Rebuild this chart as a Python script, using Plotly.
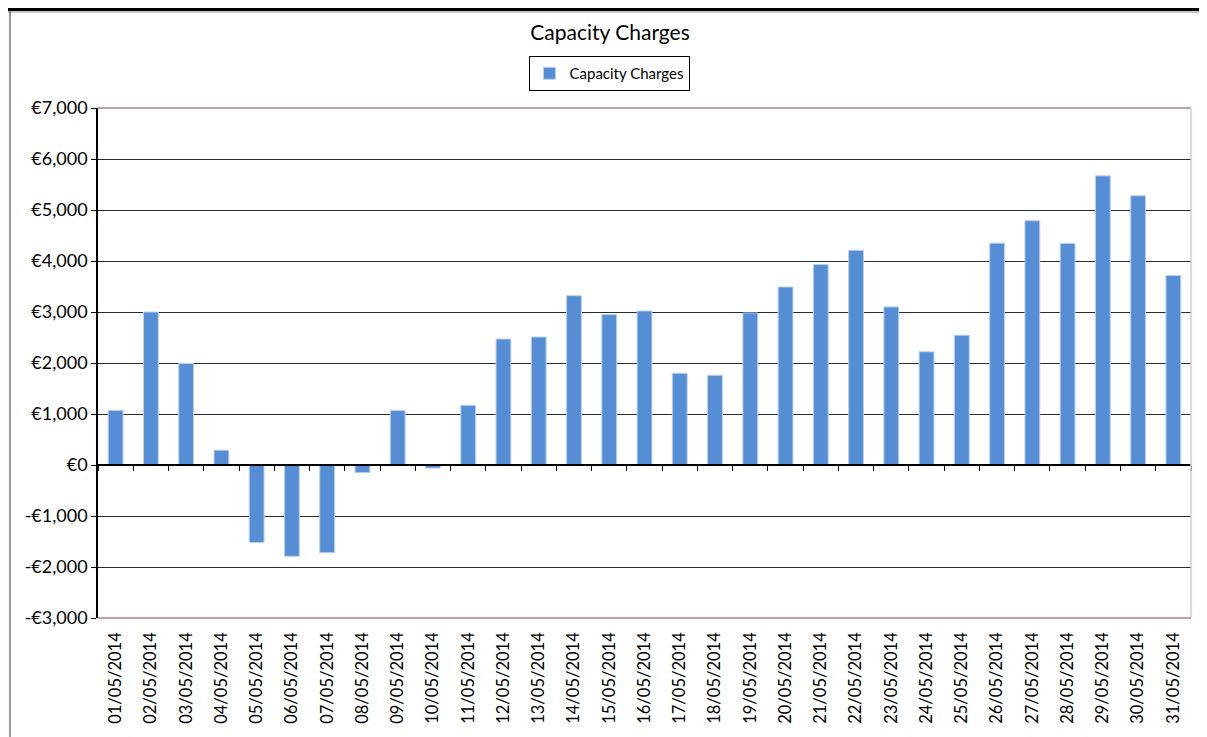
import plotly.graph_objects as go

# daily capacity charges, May 2014 (EUR)
dates = [f"{d:02d}/05/2014" for d in range(1, 32)]
charges = [1070, 3000, 1990, 290, -1520, -1790, -1720, -150, 1070, -60,
           1170, 2470, 2510, 3320, 2950, 3020, 1800, 1760, 2980, 3490,
           3930, 4210, 3100, 2220, 2545, 4350, 4790, 4345, 5670, 5280, 3715]
y_ticks = [-3000, -2000, -1000, 0, 1000, 2000, 3000, 4000, 5000, 6000, 7000]

FONT = "Lato"
OFF = 8  # page body margin
W, H = 1207 - OFF, 737 - OFF
L, R, T, B = 98 - OFF, 16, 108 - OFF, 119
PW, PH = W - L - R, H - T - B


def euro(v):
    return f"-€{abs(v):,}" if v < 0 else f"€{v:,}"


# screen pixel (as in the picture) -> paper fraction
def px(x):
    return (x - OFF - L) / PW


def py(y):
    return (H - B - (y - OFF)) / PH


fig = go.Figure()
fig.add_trace(go.Bar(
    x=dates, y=charges, name="Capacity Charges",
    marker=dict(color="#558ED5", line=dict(color="#b9d0ef", width=1)),
    width=0.42,
))
# invisible trace so the zero-line axis has its categories
fig.add_trace(go.Scatter(
    x=dates, y=[0] * len(dates), xaxis="x2", mode="markers",
    marker=dict(opacity=0, size=1), showlegend=False, hoverinfo="skip",
))

pink = "#c0a4a4"
shapes = [
    # plot area border (top, right, bottom)
    dict(type="line", xref="paper", yref="paper", x0=0, x1=1, y0=1, y1=1, line=dict(color=pink, width=2), layer="above"),
    dict(type="line", xref="paper", yref="paper", x0=1, x1=1, y0=0, y1=1, line=dict(color="#e6c4c8", width=1.5), layer="above"),
    dict(type="line", xref="paper", yref="paper", x0=0, x1=1, y0=0, y1=0, line=dict(color=pink, width=2), layer="above"),
    # outer chart frame (top edge as close to the page top as the figure allows)
    dict(type="line", xref="paper", yref="paper", x0=px(0), x1=px(1207), y0=py(9.5), y1=py(9.5), line=dict(color="black", width=3)),
    dict(type="line", xref="paper", yref="paper", x0=px(0), x1=px(1207), y0=py(12), y1=py(12), line=dict(color="#909090", width=1)),
    dict(type="line", xref="paper", yref="paper", x0=px(10), x1=px(10), y0=py(11), y1=py(737), line=dict(color="#707070", width=1.5)),
]

n = len(dates)
fig.update_layout(
    width=W, height=H,
    margin=dict(l=L, r=R, t=T, b=B),
    paper_bgcolor="white", plot_bgcolor="white",
    font=dict(family=FONT, size=17, color="black"),
    title=dict(text="Capacity Charges", x=(610 - OFF) / W, xref="container", xanchor="center",
               y=1 - (33 - OFF) / H, yanchor="middle", font=dict(size=21, family=FONT, color="black")),
    showlegend=True,
    legend=dict(orientation="h", x=px(609), xanchor="center", y=py(73.5), yanchor="middle",
                bordercolor="black", borderwidth=1, font=dict(size=15, family=FONT),
                itemwidth=30),
    xaxis=dict(type="category", range=[-0.5, n - 0.5], showline=False, showgrid=False, ticks="",
               tickangle=-90, tickfont=dict(size=16.5), ticklabelstandoff=10),
    xaxis2=dict(type="category", overlaying="x", anchor="free", position=0.3, side="bottom",
                range=[-0.5, n - 0.5],
                showline=True, linecolor="black", linewidth=1.5, showgrid=False,
                ticks="outside", ticklen=5, tickcolor="black", tickson="boundaries",
                showticklabels=False),
    yaxis=dict(range=[-3000, 7000], tickvals=y_ticks, ticktext=[euro(v) for v in y_ticks],
               showgrid=True, gridcolor="#2a2a2a", gridwidth=1.2, zeroline=False,
               showline=True, linecolor="black", linewidth=1.5,
               ticks="outside", ticklen=5, tickcolor="black", tickfont=dict(size=18)),
    shapes=shapes,
    bargap=0.58,
)

fig.write_html("out.html")
